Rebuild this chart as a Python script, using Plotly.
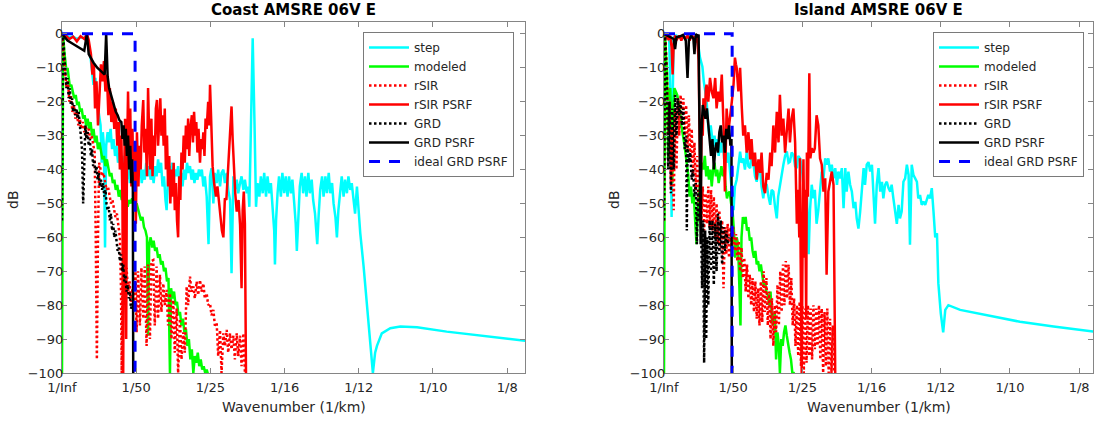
import plotly.graph_objects as go

# ---------------- axis ticks / labels ----------------
X_TICK_VALS = [0, 0.02, 0.04, 0.06, 0.08, 0.10, 0.12]
X_TICK_TEXT = ["1/Inf", "1/50", "1/25", "1/16", "1/12", "1/10", "1/8"]
Y_TICK_VALS = [0, -10, -20, -30, -40, -50, -60, -70, -80, -90, -100]
SERIES = ["step", "modeled", "rSIR", "rSIR PSRF", "GRD", "GRD PSRF", "ideal GRD PSRF"]
TITLES = ["Coast AMSRE 06V E", "Island AMSRE 06V E"]

# ---------------- Coast panel: (wavenumber 1/km, dB) ----------------
coast_step = [
    (0.0000, 0), (0.0010, -0.5), (0.0020, -1), (0.0030, -0.8), (0.0040, -1.5), (0.0050, -1), (0.0060, -1.2),
    (0.0068, -2), (0.0075, -5), (0.0080, -10), (0.0085, -15), (0.0090, -13), (0.0095, -20), (0.0100, -24),
    (0.0104, -27), (0.0107, -38), (0.0110, -29), (0.0113, -33), (0.0116, -63), (0.0119, -33),
    (0.0123, -29), (0.0127, -32), (0.0131, -28), (0.0135, -34), (0.0139, -31), (0.0143, -36), (0.0147, -33),
    (0.0151, -38), (0.0155, -35), (0.0159, -40), (0.0163, -36), (0.0167, -42), (0.0171, -37), (0.0175, -43),
    (0.0179, -38), (0.0183, -44), (0.0187, -39), (0.0191, -42), (0.0195, -37), (0.0199, -41), (0.0203, -37),
    (0.0207, -42), (0.0211, -39), (0.0215, -44), (0.0219, -40), (0.0223, -43), (0.0227, -38), (0.0231, -42),
    (0.0235, -39), (0.0239, -43), (0.0243, -40), (0.0247, -44), (0.0251, -39), (0.0255, -42), (0.0259, -37),
    (0.0263, -41), (0.0267, -38), (0.0271, -45), (0.0275, -42), (0.0279, -49), (0.0282, -52), (0.0285, -44),
    (0.0289, -39), (0.0293, -42), (0.0297, -38), (0.0301, -43), (0.0305, -40), (0.0309, -42), (0.0313, -39),
    (0.0317, -44), (0.0321, -41), (0.0325, -45), (0.0329, -40), (0.0333, -43), (0.0337, -38), (0.0341, -41),
    (0.0345, -39), (0.0349, -43), (0.0353, -40), (0.0357, -44), (0.0361, -41), (0.0365, -43), (0.0369, -40),
    (0.0373, -42), (0.0377, -40), (0.0381, -45), (0.0385, -42), (0.0390, -48), (0.0395, -62), (0.0399, -42),
    (0.0403, -39.6), (0.0408, -50), (0.0412, -41), (0.0417, -44), (0.0421, -40), (0.0426, -45), (0.0430, -41),
    (0.0435, -40), (0.0439, -44), (0.0444, -41), (0.0448, -46), (0.0453, -49), (0.0457, -70.6), (0.0462, -42),
    (0.0466, -46), (0.0471, -43), (0.0475, -47), (0.0480, -44), (0.0484, -42), (0.0489, -46), (0.0493, -43),
    (0.0498, -47), (0.0502, -45), (0.0505, -51), (0.0509, -27), (0.0514, -1.3), (0.0519, -27), (0.0523, -51),
    (0.0527, -44), (0.0532, -48), (0.0536, -42), (0.0541, -47), (0.0545, -41), (0.0550, -48), (0.0554, -42),
    (0.0559, -47), (0.0563, -44), (0.0568, -51), (0.0572, -58), (0.0574, -68), (0.0577, -55), (0.0581, -47),
    (0.0585, -42), (0.0590, -48), (0.0594, -41), (0.0599, -47), (0.0603, -42), (0.0608, -48), (0.0612, -42),
    (0.0617, -47), (0.0621, -43), (0.0626, -50), (0.0630, -56), (0.0633, -64), (0.0637, -52), (0.0641, -45),
    (0.0646, -41), (0.0650, -47), (0.0655, -42), (0.0659, -48), (0.0664, -41), (0.0668, -47), (0.0673, -43),
    (0.0677, -49), (0.0682, -53), (0.0688, -62), (0.0692, -53), (0.0696, -46), (0.0701, -42), (0.0705, -48),
    (0.0710, -42), (0.0714, -47), (0.0719, -41), (0.0723, -47), (0.0728, -44), (0.0732, -50), (0.0737, -54),
    (0.0741, -60), (0.0745, -52), (0.0750, -46), (0.0754, -42), (0.0759, -48), (0.0763, -43), (0.0768, -47),
    (0.0772, -42), (0.0777, -46), (0.0781, -44), (0.0786, -49), (0.0790, -53), (0.0795, -45), (0.0799, -52),
    (0.0804, -58.8), (0.0813, -68.6), (0.0822, -80.4), (0.0831, -91.2), (0.0838, -100), (0.0844, -94),
    (0.0849, -92), (0.0862, -88.3), (0.0885, -86.8), (0.0912, -86.3), (0.0957, -86.5), (0.1037, -87.8),
    (0.1118, -88.8), (0.1250, -90.5),
]

coast_modeled = [
    (0.0000, -101), (0.0003, 0), (0.0006, -5), (0.0009, -8), (0.0012, -11), (0.0015, -10), (0.0018, -14),
    (0.0021, -15.5), (0.0025, -15), (0.0029, -17), (0.0033, -19), (0.0037, -18), (0.0041, -21), (0.0045, -20),
    (0.0049, -23), (0.0053, -22), (0.0057, -25), (0.0061, -24), (0.0065, -27), (0.0069, -25), (0.0073, -28),
    (0.0077, -26), (0.0081, -30), (0.0085, -28), (0.0089, -32), (0.0093, -30), (0.0097, -34), (0.0101, -32),
    (0.0105, -35), (0.0109, -37), (0.0113, -36), (0.0117, -39), (0.0121, -37), (0.0125, -40), (0.0129, -42),
    (0.0133, -41), (0.0137, -44), (0.0141, -43), (0.0145, -46), (0.0149, -44.5), (0.0153, -48), (0.0157, -46),
    (0.0161, -49), (0.0165, -47), (0.0169, -50), (0.0173, -48), (0.0177, -51), (0.0181, -49), (0.0185, -50),
    (0.0189, -48.5), (0.0193, -50), (0.0197, -51), (0.0201, -50), (0.0205, -52), (0.0209, -53), (0.0213, -55),
    (0.0217, -54), (0.0221, -57), (0.0225, -58), (0.0229, -60), (0.0232, -89), (0.0235, -62), (0.0239, -60),
    (0.0243, -63), (0.0247, -61), (0.0251, -64), (0.0255, -63), (0.0259, -66), (0.0263, -65), (0.0267, -68),
    (0.0271, -67), (0.0275, -70), (0.0279, -69), (0.0283, -73), (0.0287, -72), (0.0291, -100), (0.0294, -75),
    (0.0298, -78), (0.0302, -76), (0.0306, -80), (0.0310, -79), (0.0314, -83), (0.0318, -82), (0.0322, -86),
    (0.0326, -84), (0.0330, -88), (0.0334, -87), (0.0338, -92), (0.0342, -90), (0.0346, -96), (0.0350, -93),
    (0.0354, -100), (0.0358, -95), (0.0362, -97), (0.0366, -94), (0.0370, -98), (0.0374, -96), (0.0378, -99),
    (0.0382, -98), (0.0386, -100), (0.0390, -99), (0.0395, -101),
]

coast_rsir = [
    (0.0000, 0), (0.0004, -6), (0.0008, -12), (0.0012, -16), (0.0016, -14), (0.0020, -20), (0.0024, -18),
    (0.0028, -23), (0.0032, -21), (0.0036, -25), (0.0040, -23), (0.0044, -27), (0.0048, -25), (0.0052, -28),
    (0.0056, -26), (0.0060, -29), (0.0064, -27), (0.0068, -30), (0.0072, -28), (0.0076, -31), (0.0080, -30),
    (0.0084, -33), (0.0088, -35), (0.0091, -60), (0.0094, -96), (0.0097, -60), (0.0100, -38), (0.0104, -40),
    (0.0108, -42), (0.0112, -41), (0.0116, -44), (0.0120, -46), (0.0124, -45), (0.0128, -48), (0.0132, -50),
    (0.0136, -49), (0.0140, -52), (0.0144, -54), (0.0148, -53), (0.0152, -57), (0.0156, -60), (0.0159, -75),
    (0.0161, -100), (0.0163, -75), (0.0166, -66), (0.0170, -72), (0.0174, -69), (0.0178, -76), (0.0182, -73),
    (0.0186, -79), (0.0190, -75), (0.0194, -82), (0.0198, -70), (0.0201, -88), (0.0205, -70), (0.0210, -86),
    (0.0214, -69), (0.0219, -84), (0.0223, -68.6), (0.0228, -92), (0.0232, -68), (0.0237, -90), (0.0241, -67),
    (0.0246, -66.7), (0.0250, -86), (0.0255, -68.6), (0.0259, -84), (0.0264, -71), (0.0268, -82), (0.0273, -73.6),
    (0.0277, -80), (0.0282, -75.5), (0.0286, -86), (0.0291, -76.5), (0.0295, -90), (0.0300, -78.5), (0.0304, -94),
    (0.0309, -81), (0.0313, -100), (0.0318, -84), (0.0322, -96), (0.0327, -88), (0.0331, -94), (0.0336, -74.5),
    (0.0340, -80), (0.0345, -71.6), (0.0349, -76), (0.0354, -74.5), (0.0358, -78), (0.0363, -73), (0.0367, -77),
    (0.0372, -72.6), (0.0376, -76), (0.0381, -73.6), (0.0385, -78), (0.0390, -76.5), (0.0394, -80), (0.0399, -79.5),
    (0.0403, -83), (0.0408, -81.4), (0.0412, -86), (0.0417, -85.3), (0.0421, -95), (0.0426, -87.3), (0.0430, -100),
    (0.0435, -88.3), (0.0439, -92), (0.0444, -87.3), (0.0448, -94), (0.0453, -88.3), (0.0457, -93), (0.0462, -89),
    (0.0466, -96), (0.0471, -88.3), (0.0475, -95), (0.0480, -89), (0.0484, -98), (0.0489, -88.3), (0.0493, -100),
    (0.0498, -101),
]

coast_rsir_psrf = [
    (0.0000, 0), (0.0010, -0.5), (0.0020, -1.5), (0.0030, -0.8), (0.0040, -2.2), (0.0050, -0.7), (0.0060, -1.5),
    (0.0067, 0), (0.0072, -1.8), (0.0078, -6), (0.0082, -12), (0.0086, -9), (0.0089, -22), (0.0093, -14),
    (0.0097, -27), (0.0101, -18), (0.0105, -9), (0.0109, -14), (0.0113, -8), (0.0117, -17), (0.0121, -12),
    (0.0125, -24), (0.0129, -16), (0.0133, -26), (0.0137, -20), (0.0141, -28), (0.0145, -22), (0.0149, -33),
    (0.0153, -26), (0.0156, -40), (0.0160, -30), (0.0163, -50), (0.0165, -100), (0.0167, -45), (0.0170, -25),
    (0.0173, -90), (0.0175, -38), (0.0178, -17), (0.0181, -35), (0.0184, -22), (0.0187, -45), (0.0190, -28),
    (0.0193, -50), (0.0196, -32), (0.0199, -56), (0.0202, -29), (0.0206, -45), (0.0209, -33), (0.0212, -40),
    (0.0215, -27), (0.0219, -19.5), (0.0222, -35), (0.0225, -28), (0.0229, -42), (0.0232, -16), (0.0235, -30),
    (0.0238, -40), (0.0241, -25), (0.0244, -42), (0.0247, -30), (0.0250, -36), (0.0253, -22), (0.0256, -19.5),
    (0.0259, -33), (0.0262, -26), (0.0265, -19), (0.0268, -30), (0.0271, -24), (0.0274, -33), (0.0277, -22),
    (0.0280, -40), (0.0283, -30), (0.0286, -45), (0.0289, -36), (0.0292, -50), (0.0295, -40), (0.0298, -48),
    (0.0301, -38), (0.0304, -52), (0.0307, -44), (0.0310, -55), (0.0313, -60), (0.0316, -42), (0.0319, -49),
    (0.0322, -35), (0.0325, -40), (0.0328, -30), (0.0331, -38), (0.0334, -27), (0.0337, -34), (0.0340, -25),
    (0.0343, -36), (0.0346, -28), (0.0350, -24), (0.0353, -32), (0.0356, -23), (0.0359, -30), (0.0362, -26),
    (0.0365, -35), (0.0368, -28), (0.0372, -38), (0.0375, -31), (0.0378, -34), (0.0381, -29), (0.0384, -36),
    (0.0387, -25), (0.0390, -28), (0.0394, -20), (0.0397, -27), (0.0399, -15), (0.0402, -25), (0.0406, -39),
    (0.0410, -44), (0.0415, -48), (0.0419, -45), (0.0423, -50), (0.0427, -54), (0.0431, -58), (0.0435, -60),
    (0.0439, -48.5), (0.0443, -49), (0.0448, -40), (0.0452, -32), (0.0457, -21.4), (0.0460, -31), (0.0463, -40),
    (0.0467, -47), (0.0471, -52.4), (0.0476, -49), (0.0480, -56.3), (0.0484, -75), (0.0487, -52), (0.0490, -46.5),
    (0.0493, -56), (0.0496, -101),
]

coast_grd = [
    (0.0000, -55), (0.0003, 0), (0.0006, -6), (0.0009, -12), (0.0012, -16), (0.0015, -13), (0.0018, -19),
    (0.0021, -16), (0.0024, -21), (0.0027, -19), (0.0030, -23), (0.0033, -21), (0.0036, -24), (0.0039, -22),
    (0.0042, -25), (0.0045, -23), (0.0048, -27), (0.0051, -29), (0.0054, -34), (0.0057, -50), (0.0060, -33),
    (0.0063, -27), (0.0066, -31), (0.0069, -29), (0.0072, -33), (0.0075, -31), (0.0078, -36), (0.0081, -34),
    (0.0084, -39), (0.0087, -37), (0.0090, -41), (0.0093, -39), (0.0096, -43), (0.0099, -41), (0.0102, -45),
    (0.0105, -43), (0.0108, -46), (0.0111, -44), (0.0114, -48), (0.0117, -46), (0.0120, -50), (0.0123, -52),
    (0.0126, -51), (0.0129, -55), (0.0132, -53), (0.0135, -58), (0.0138, -56), (0.0141, -60), (0.0144, -58),
    (0.0147, -62), (0.0150, -64), (0.0153, -63), (0.0156, -67), (0.0159, -65), (0.0162, -70), (0.0165, -68),
    (0.0168, -73), (0.0171, -71), (0.0174, -76), (0.0177, -74), (0.0180, -78), (0.0183, -76), (0.0186, -81),
    (0.0189, -80),
]

coast_grd_psrf = [
    (0.0000, 0), (0.0015, -2), (0.0030, -3), (0.0045, -4), (0.0060, -5), (0.0067, 0), (0.0072, -6),
    (0.0085, -8.5), (0.0095, -10), (0.0105, -11), (0.0115, -12), (0.0119, 0), (0.0123, -12.5), (0.0127, -16),
    (0.0132, -18), (0.0138, -21), (0.0145, -23), (0.0150, -24), (0.0155, -25.5), (0.0160, -26), (0.0163, -31),
    (0.0166, -27), (0.0169, -33), (0.0172, -28), (0.0175, -36), (0.0178, -30), (0.0181, -40), (0.0184, -33),
    (0.0187, -44), (0.0189, -37), (0.0191, -46), (0.0192, -101),
]

coast_ideal = [(0.0000, 0), (0.0197, 0), (0.0197, -101)]

# ---------------- Island panel: (wavenumber 1/km, dB) ----------------
island_step = [
    (0.0000, 0), (0.0008, -0.5), (0.0015, -1), (0.0019, -20), (0.0022, -54), (0.0025, -20), (0.0028, -1),
    (0.0035, -0.5), (0.0045, -1), (0.0055, -0.5), (0.0065, -1.5), (0.0075, -0.5), (0.0085, -1), (0.0095, -2),
    (0.0100, -4), (0.0104, -7), (0.0108, -9), (0.0111, -9.7), (0.0115, -14),
    (0.0119, -17), (0.0123, -19.5), (0.0127, -26), (0.0131, -30), (0.0135, -27), (0.0139, -31), (0.0142, -33),
    (0.0146, -30), (0.0150, -34), (0.0154, -31), (0.0158, -36), (0.0162, -32), (0.0166, -35), (0.0170, -31),
    (0.0174, -37), (0.0178, -34), (0.0182, -38), (0.0186, -35), (0.0190, -40), (0.0194, -44), (0.0198, -48.5),
    (0.0201, -52), (0.0205, -45), (0.0210, -43), (0.0215, -39), (0.0220, -34.7), (0.0224, -38), (0.0229, -36.7),
    (0.0234, -40), (0.0239, -34.7), (0.0244, -39), (0.0249, -39.6), (0.0253, -36), (0.0258, -37.7), (0.0263, -42),
    (0.0268, -43.6), (0.0273, -40), (0.0278, -40.6), (0.0282, -45), (0.0287, -48.5), (0.0292, -44), (0.0297, -44.5),
    (0.0302, -48), (0.0307, -50.4), (0.0311, -46), (0.0316, -46.5), (0.0321, -51), (0.0326, -54.4), (0.0330, -48),
    (0.0335, -44.5), (0.0340, -41), (0.0345, -38.6), (0.0350, -36), (0.0355, -34.7), (0.0360, -38), (0.0364, -37.7),
    (0.0369, -35), (0.0374, -35.7), (0.0379, -39), (0.0384, -39.6), (0.0388, -36), (0.0393, -36.7), (0.0398, -39),
    (0.0403, -44.5), (0.0408, -56), (0.0413, -47), (0.0418, -65), (0.0422, -52), (0.0427, -44.5), (0.0432, -48.5),
    (0.0436, -46), (0.0441, -56), (0.0446, -52), (0.0451, -46.5), (0.0456, -40.6), (0.0461, -42.6), (0.0466, -36.7),
    (0.0470, -38.6), (0.0475, -36.7), (0.0480, -40.6), (0.0485, -38.6), (0.0490, -42.6), (0.0495, -39.6),
    (0.0500, -44.5), (0.0504, -40.6), (0.0509, -42.6), (0.0514, -39.6), (0.0519, -51.4), (0.0524, -39.6),
    (0.0528, -46.5), (0.0533, -40.6), (0.0538, -44.5), (0.0543, -46.5), (0.0548, -51.4), (0.0553, -49.5),
    (0.0557, -54.4), (0.0562, -57.4), (0.0567, -52.4), (0.0572, -45.5), (0.0577, -39.6), (0.0581, -44.5),
    (0.0586, -38.6), (0.0591, -37.8), (0.0596, -40.6), (0.0601, -38.6), (0.0605, -46.5), (0.0610, -56),
    (0.0615, -44.5), (0.0620, -39.6), (0.0625, -46.5), (0.0630, -43.6), (0.0634, -48.5), (0.0639, -44.5),
    (0.0644, -43.6), (0.0649, -45.5), (0.0654, -46.5), (0.0658, -44.5), (0.0663, -48.5), (0.0668, -52.4),
    (0.0673, -56), (0.0678, -50.4), (0.0682, -54.4), (0.0687, -52.4), (0.0692, -43.6), (0.0697, -42.6),
    (0.0702, -38.6), (0.0707, -41.6), (0.0711, -62.2), (0.0716, -38.6), (0.0721, -41.6), (0.0726, -42.6),
    (0.0731, -43.6), (0.0735, -48.5), (0.0740, -47.5), (0.0745, -50.4), (0.0750, -49.5), (0.0755, -50.4),
    (0.0760, -48.5), (0.0764, -47.5), (0.0769, -48.5), (0.0774, -45.5), (0.0779, -52.4), (0.0784, -60),
    (0.0789, -58.8), (0.0793, -73.5), (0.0800, -82.4), (0.0807, -88), (0.0813, -81.4), (0.0822, -80),
    (0.0856, -81.4), (0.0933, -82.9), (0.1029, -84.9), (0.1126, -86.3), (0.1241, -87.8),
]

island_modeled = [
    (0.0000, -101), (0.0003, 0), (0.0006, -7), (0.0009, -12), (0.0012, -37), (0.0015, -17), (0.0018, -16),
    (0.0021, -26), (0.0024, -44), (0.0027, -21), (0.0030, -16), (0.0034, -17), (0.0038, -18), (0.0042, -20),
    (0.0046, -22), (0.0050, -27), (0.0054, -29), (0.0058, -32), (0.0062, -35), (0.0066, -38), (0.0070, -41.6),
    (0.0074, -48), (0.0078, -45), (0.0082, -50), (0.0086, -47), (0.0090, -55), (0.0094, -62), (0.0098, -52),
    (0.0102, -45), (0.0106, -41), (0.0110, -38), (0.0114, -40), (0.0118, -36), (0.0122, -42), (0.0126, -39),
    (0.0130, -43), (0.0134, -40), (0.0138, -45), (0.0142, -40), (0.0146, -38), (0.0150, -42), (0.0154, -40),
    (0.0158, -44), (0.0162, -41), (0.0166, -39), (0.0170, -42), (0.0174, -40), (0.0178, -45), (0.0182, -48.5),
    (0.0186, -47), (0.0190, -46.5), (0.0194, -50), (0.0198, -52), (0.0202, -58), (0.0206, -66), (0.0210, -60),
    (0.0214, -62), (0.0218, -75), (0.0221, -86), (0.0224, -60), (0.0228, -54), (0.0232, -56), (0.0236, -54),
    (0.0240, -58), (0.0244, -57), (0.0248, -61), (0.0252, -60), (0.0256, -64), (0.0260, -66), (0.0264, -64),
    (0.0268, -68), (0.0272, -67), (0.0276, -70), (0.0280, -68), (0.0284, -72), (0.0288, -74), (0.0292, -73),
    (0.0296, -76), (0.0300, -77), (0.0304, -80), (0.0308, -76), (0.0312, -84), (0.0316, -86), (0.0320, -82),
    (0.0324, -96), (0.0328, -88), (0.0332, -92), (0.0335, -100), (0.0339, -90), (0.0343, -92), (0.0347, -88),
    (0.0351, -86), (0.0355, -89), (0.0359, -92), (0.0363, -94), (0.0367, -96), (0.0371, -100), (0.0375, -100),
    (0.0379, -101),
]

island_rsir = [
    (0.0000, -55), (0.0003, 0), (0.0008, -10), (0.0012, -30), (0.0016, -20), (0.0020, -45), (0.0024, -28),
    (0.0028, -52), (0.0032, -22), (0.0036, -40), (0.0040, -19), (0.0044, -30), (0.0048, -18), (0.0052, -27),
    (0.0056, -19), (0.0060, -30), (0.0064, -21), (0.0068, -34), (0.0072, -24), (0.0076, -38), (0.0080, -28),
    (0.0084, -42), (0.0088, -32), (0.0092, -46), (0.0096, -36), (0.0100, -50), (0.0104, -40), (0.0108, -55),
    (0.0112, -45), (0.0116, -58), (0.0120, -47), (0.0124, -56), (0.0128, -45), (0.0132, -57), (0.0136, -46),
    (0.0140, -58), (0.0144, -48), (0.0148, -60), (0.0152, -50), (0.0156, -62), (0.0160, -52), (0.0164, -63),
    (0.0168, -55), (0.0172, -75), (0.0176, -57), (0.0180, -65), (0.0184, -56), (0.0188, -66), (0.0192, -57),
    (0.0196, -63), (0.0200, -57), (0.0204, -64), (0.0208, -59), (0.0212, -67), (0.0216, -61), (0.0220, -70),
    (0.0224, -63), (0.0228, -72), (0.0232, -66), (0.0236, -76), (0.0240, -68), (0.0244, -78), (0.0248, -71),
    (0.0252, -80), (0.0256, -72), (0.0260, -82), (0.0264, -73), (0.0268, -84), (0.0272, -75), (0.0276, -86),
    (0.0280, -73), (0.0284, -85), (0.0288, -70), (0.0292, -82), (0.0296, -72), (0.0300, -86), (0.0304, -76),
    (0.0308, -90), (0.0312, -78), (0.0316, -92), (0.0320, -80), (0.0324, -88), (0.0328, -74), (0.0332, -86),
    (0.0336, -70), (0.0340, -82), (0.0344, -68), (0.0348, -80), (0.0352, -67), (0.0356, -78), (0.0360, -68),
    (0.0364, -80), (0.0368, -72), (0.0372, -86), (0.0376, -78), (0.0380, -92), (0.0384, -80), (0.0388, -95),
    (0.0392, -79), (0.0396, -98), (0.0400, -80), (0.0404, -100), (0.0408, -81), (0.0412, -97), (0.0416, -80),
    (0.0420, -95), (0.0424, -81), (0.0428, -96), (0.0432, -80), (0.0436, -93), (0.0440, -81), (0.0444, -92),
    (0.0448, -80), (0.0452, -96), (0.0456, -81), (0.0460, -100), (0.0464, -82), (0.0468, -98), (0.0472, -81),
    (0.0476, -100), (0.0480, -84), (0.0484, -100), (0.0488, -86), (0.0492, -101),
]

island_rsir_psrf = [
    (0.0000, 0), (0.0006, -0.5), (0.0012, -1.5), (0.0018, -0.5), (0.0022, -4), (0.0025, -12), (0.0028, -3),
    (0.0032, -0.5), (0.0038, -1.5), (0.0044, -0.5), (0.0050, -2), (0.0056, -0.5), (0.0062, -1.5), (0.0068, -0.5),
    (0.0074, -2), (0.0080, -0.5), (0.0086, -1), (0.0092, -2.5), (0.0096, -0.5), (0.0100, -8), (0.0103, -30),
    (0.0106, -48), (0.0109, -25), (0.0112, -30), (0.0114, -19), (0.0118, -25), (0.0121, -16), (0.0123, -15),
    (0.0128, -20), (0.0133, -13), (0.0138, -17), (0.0143, -19), (0.0148, -13), (0.0152, -22), (0.0157, -17),
    (0.0162, -20), (0.0167, -12), (0.0172, -27), (0.0176, -46.5), (0.0179, -30), (0.0181, -22), (0.0186, -29),
    (0.0191, -25), (0.0196, -20), (0.0201, -15), (0.0205, -7), (0.0208, -9), (0.0210, -10), (0.0215, -17),
    (0.0220, -10), (0.0225, -22), (0.0229, -30), (0.0234, -27), (0.0239, -35), (0.0244, -29), (0.0249, -37),
    (0.0253, -31), (0.0258, -39), (0.0263, -35), (0.0268, -43), (0.0273, -37), (0.0278, -41), (0.0282, -35),
    (0.0287, -45), (0.0292, -47), (0.0297, -41), (0.0302, -43), (0.0307, -35), (0.0311, -39), (0.0316, -27),
    (0.0321, -35), (0.0326, -23), (0.0331, -32), (0.0335, -18), (0.0340, -30), (0.0345, -25), (0.0350, -35),
    (0.0355, -27), (0.0360, -22), (0.0364, -32), (0.0369, -25), (0.0374, -22), (0.0379, -32), (0.0384, -56),
    (0.0388, -46), (0.0391, -60), (0.0393, -36.7), (0.0395, -66), (0.0398, -100), (0.0401, -56), (0.0403, -37),
    (0.0406, -66), (0.0408, -46), (0.0411, -84), (0.0413, -35), (0.0416, -48), (0.0420, -11.6), (0.0423, -36.7),
    (0.0427, -33.7), (0.0432, -35), (0.0436, -33.7), (0.0441, -24), (0.0446, -27), (0.0451, -36.7),
    (0.0456, -38.6), (0.0461, -46.5), (0.0466, -42.6), (0.0470, -71), (0.0475, -46.5), (0.0480, -43.6),
    (0.0485, -40.6), (0.0490, -44.5), (0.0495, -101),
]

island_grd = [
    (0.0000, -55), (0.0003, 0), (0.0008, -12), (0.0012, -40), (0.0016, -20), (0.0020, -47), (0.0024, -22),
    (0.0028, -40), (0.0032, -18), (0.0036, -30), (0.0040, -19), (0.0044, -24), (0.0048, -20), (0.0052, -27),
    (0.0056, -22), (0.0060, -34), (0.0064, -30), (0.0066, -58), (0.0068, -33), (0.0072, -38), (0.0076, -35),
    (0.0080, -43), (0.0084, -40), (0.0088, -48), (0.0092, -44), (0.0095, -62), (0.0098, -46), (0.0102, -55),
    (0.0106, -48), (0.0110, -75), (0.0113, -55), (0.0116, -97), (0.0119, -58), (0.0122, -90), (0.0125, -60),
    (0.0128, -80), (0.0132, -55), (0.0136, -70), (0.0140, -55), (0.0144, -74), (0.0148, -56), (0.0152, -70),
    (0.0156, -53), (0.0160, -65), (0.0164, -55), (0.0168, -68), (0.0172, -57), (0.0176, -64), (0.0180, -58),
    (0.0184, -62), (0.0188, -60),
]

island_grd_psrf = [
    (0.0000, 0), (0.0010, -0.5), (0.0020, -1), (0.0028, -1.5), (0.0032, -4.5), (0.0036, -1), (0.0045, -0.8),
    (0.0055, -0.3), (0.0063, -2), (0.0068, -13), (0.0072, -2), (0.0078, -0.5), (0.0085, -1.5), (0.0088, -6),
    (0.0092, 0), (0.0097, -1), (0.0100, -0.2), (0.0102, -24), (0.0104, -40), (0.0106, -62), (0.0108, -30),
    (0.0112, -21), (0.0116, -23), (0.0120, -25), (0.0124, -22), (0.0128, -27), (0.0132, -30), (0.0136, -36),
    (0.0140, -31), (0.0144, -40), (0.0148, -34), (0.0152, -32), (0.0156, -35), (0.0160, -29), (0.0164, -27),
    (0.0168, -32), (0.0172, -30), (0.0176, -35), (0.0180, -28), (0.0184, -31), (0.0188, -27), (0.0192, -33),
    (0.0195, -31), (0.0196, -101),
]

island_ideal = [(0.0000, 0), (0.0197, 0), (0.0197, -101)]

PANEL_DATA = [
    {"step": coast_step, "modeled": coast_modeled, "rSIR": coast_rsir, "rSIR PSRF": coast_rsir_psrf,
     "GRD": coast_grd, "GRD PSRF": coast_grd_psrf, "ideal GRD PSRF": coast_ideal},
    {"step": island_step, "modeled": island_modeled, "rSIR": island_rsir, "rSIR PSRF": island_rsir_psrf,
     "GRD": island_grd, "GRD PSRF": island_grd_psrf, "ideal GRD PSRF": island_ideal},
]
X_MAX = [0.1248, 0.1240]

# ---------------- styling ----------------
FONT = "DejaVu Sans"
TXT = "#262626"
AXC = "#858585"
STYLES = {
    "step": dict(color="#00FFFF", width=2.5),
    "modeled": dict(color="#00FF00", width=2.5),
    "rSIR": dict(color="#FF0000", width=2.5, dash="2.5px,2.5px"),
    "rSIR PSRF": dict(color="#FF0000", width=2.5),
    "GRD": dict(color="#000000", width=2.5, dash="2.5px,2.5px"),
    "GRD PSRF": dict(color="#000000", width=2.5),
    "ideal GRD PSRF": dict(color="#0000FF", width=3, dash="11px,9px"),
}

fig = go.Figure()
axis_ids = [("x", "y", "legend"), ("x2", "y2", "legend2")]
for p, (xa, ya, lg) in enumerate(axis_ids):
    for name in SERIES:
        pts = PANEL_DATA[p][name]
        fig.add_trace(go.Scatter(
            x=[q[0] for q in pts], y=[q[1] for q in pts], mode="lines", name=name,
            line=STYLES[name], xaxis=xa, yaxis=ya, legend=lg, hoverinfo="skip",
        ))

# body margin is removed by a small post-script, so figure pixels == page pixels
W, H = 1094, 421
ML, MT = 62, 22
MB = H - 373
MR = W - 1093
PW = W - ML - MR
PH = H - MT - MB


def px_x(px):
    return (px - ML) / PW


def px_y(py):
    return (H - MB - py) / PH


def xaxis_cfg(dom, xmax):
    return dict(domain=dom, range=[0, xmax], tickvals=X_TICK_VALS, ticktext=X_TICK_TEXT,
                ticks="inside", ticklen=5, tickcolor=AXC, showline=True, linecolor=AXC, linewidth=1,
                mirror="ticks", showgrid=False, zeroline=False, ticklabelstandoff=2,
                tickfont=dict(family=FONT, size=13, color=TXT))


def yaxis_cfg(anchor):
    return dict(anchor=anchor, domain=[0, 1], range=[-100, 3.5], tickvals=Y_TICK_VALS,
                ticks="inside", ticklen=5, tickcolor=AXC, showline=True, linecolor=AXC, linewidth=1,
                mirror="ticks", showgrid=False, zeroline=False, ticklabelstandoff=-5,
                tickfont=dict(family=FONT, size=13, color=TXT))


legend_common = dict(xanchor="right", yanchor="top", bgcolor="white", bordercolor="#7a7a7a",
                     borderwidth=1, font=dict(family=FONT, size=12, color=TXT), tracegroupgap=0,
                     itemwidth=40, xref="paper", yref="paper")

fig.update_layout(
    width=W, height=H, margin=dict(l=ML, r=MR, t=MT, b=MB, autoexpand=False),
    paper_bgcolor="white", plot_bgcolor="white",
    xaxis=xaxis_cfg([0, px_x(525)], X_MAX[0]),
    xaxis2=xaxis_cfg([px_x(664), px_x(1093)], X_MAX[1]),
    yaxis=yaxis_cfg("x"),
    yaxis2=yaxis_cfg("x2"),
    legend=dict(x=px_x(514), y=px_y(32), **legend_common),
    legend2=dict(x=px_x(1084), y=px_y(32), **legend_common),
    showlegend=True,
)

centers = [(62 + 525) / 2, (664 + 1093) / 2]
ylabel_x = [13, 614]
for i in range(2):
    fig.add_annotation(text="<b>%s</b>" % TITLES[i], x=px_x(centers[i]), y=px_y(10), xref="paper", yref="paper",
                       showarrow=False, xanchor="center", yanchor="middle",
                       font=dict(family=FONT, size=15, color="#000000"))
    fig.add_annotation(text="Wavenumber (1/km)", x=px_x(centers[i]), y=px_y(407), xref="paper", yref="paper",
                       showarrow=False, xanchor="center", yanchor="middle",
                       font=dict(family=FONT, size=14, color=TXT))
    fig.add_annotation(text="dB", x=px_x(ylabel_x[i]), y=px_y(200), xref="paper", yref="paper",
                       showarrow=False, xanchor="center", yanchor="middle", textangle=-90,
                       font=dict(family=FONT, size=14, color=TXT))

fig.write_html("out.html", config={"displayModeBar": False, "staticPlot": True},
               post_script="document.body.style.margin='0px';document.body.style.overflow='hidden';")
